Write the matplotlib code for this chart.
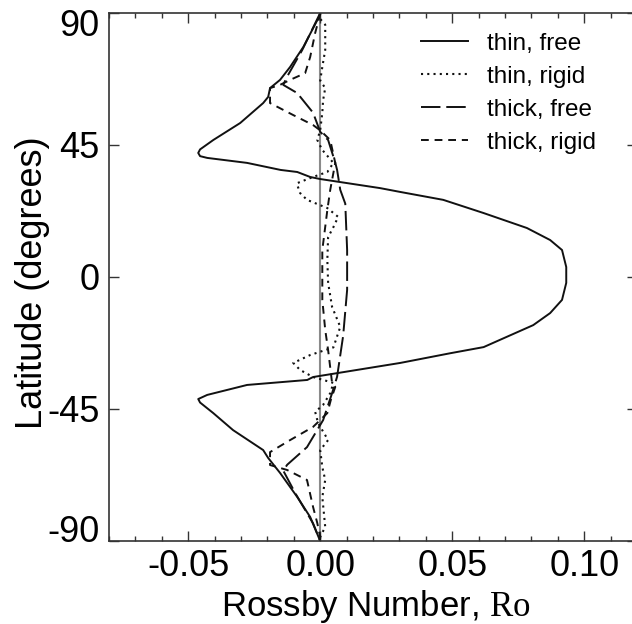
import numpy as np
import matplotlib
matplotlib.use('Agg')
import matplotlib.pyplot as plt
import matplotlib.transforms as mtransforms
from matplotlib.ticker import MultipleLocator

# latitude (deg) and Rossby number
lat_thin_free = [90, 88.6, 78.4, 71.6, 67.2, 64.4, 61.4, 59.3, 52.5, 46.7, 43.5, 42.3, 41.2, 40.6,
                 38.9, 36.5, 35.8, 34.1, 33.4, 30.3, 29.0, 26.3, 21.8, 16.7, 12.6, 9.2, 3.4,
                 -2.0, -7.8, -12.3, -16.4, -23.9, -26.0, -29.3, -34.1, -35.1, -36.8, -40.2,
                 -41.6, -42.8, -46.4, -52.2, -59.0, -61.7, -66.8, -75.0, -81.8, -90]
ro_thin_free = [0.0, -0.0005, -0.0064, -0.0114, -0.0152, -0.0190, -0.0197, -0.0216, -0.0303,
                -0.0405, -0.0455, -0.0462, -0.0455, -0.0428, -0.0277, -0.0150, -0.0087,
                -0.0038, 0.0, 0.0227, 0.0303, 0.0466, 0.0619, 0.0783, 0.0871, 0.0916, 0.0932,
                0.0932, 0.0916, 0.0871, 0.0807, 0.0619, 0.0492, 0.0303, -0.0027, -0.0049,
                -0.0277, -0.0428, -0.0462, -0.0455, -0.0405, -0.0330, -0.0216, -0.0197,
                -0.0152, -0.0087, -0.0038, 0.0]

lat_thin_rigid = [90, 88.0, 86.0, 77.4, 71.6, 67.0, 64.4, 60.3, 56.0, 50.0, 46.7, 43.3, 38.9,
                  35.8, 34.1, 32.0, 31.4, 28.6, 26.3, 23.5, 20.5, 17.0, 13.6, 5.8, -2.0, -10.2,
                  -17.0, -24.0, -26.6, -29.3, -31.7, -34.1, -36.1, -39.6, -43.6, -46.0, -49.8,
                  -55.6, -59.0, -64.8, -69.2, -75.0, -85.2, -88.6, -90]
ro_thin_rigid = [0.0, 0.0, 0.0019, 0.0019, 0.0008, 0.0, 0.0019, 0.0011, 0.0008, 0.0, -0.0011,
                 0.0008, 0.0050, 0.0027, -0.0027, -0.0087, -0.0087, -0.0076, -0.0050, 0.0027,
                 0.0068, 0.0050, 0.0030, 0.0027, 0.0030, 0.0045, 0.0076, 0.0050, -0.0038,
                 -0.0102, -0.0076, -0.0027, 0.0050, 0.0038, 0.0011, -0.0019, -0.0008, 0.0030,
                 0.0, 0.0008, 0.0019, 0.0008, 0.0019, 0.0, 0.0]

lat_thick_free = [90, 77.4, 68.2, 65.5, 62.7, 56.0, 49.5, 46.7, 39.0, 36.5, 29.7, 25.0, 9.2,
                  -4.4, -20.0, -34.0, -39.6, -48.8, -58.0, -64.0, -66.0, -73.6, -84.0, -90]
ro_thick_free = [0.0, -0.0068, -0.0126, -0.0140, -0.0087, -0.0027, 0.0, 0.0030, 0.0057, 0.0064,
                 0.0076, 0.0095, 0.0102, 0.0102, 0.0087, 0.0064, 0.0045, 0.0011, -0.0050,
                 -0.0125, -0.0140, -0.0095, -0.0027, 0.0]

lat_thick_rigid = [90, 88.0, 83.2, 75.0, 69.5, 67.2, 65.5, 64.4, 59.3, 55.2, 51.8, 50.0, 46.7,
                   38.9, 29.7, 22.8, 9.2, -7.8, -18.0, -24.9, -36.1, -37.5, -42.0, -46.4, -51.1,
                   -55.6, -59.7, -64.1, -65.8, -69.2, -78.4, -83.9, -88.6, -90]
ro_thick_rigid = [0.0, -0.0005, -0.0019, -0.0038, -0.0057, -0.0114, -0.0152, -0.0190, -0.0190,
                  -0.0102, -0.0027, 0.0, 0.0038, 0.0057, 0.0038, 0.0027, 0.0008, 0.0008, 0.0019,
                  0.0030, 0.0045, 0.0057, 0.0040, 0.0027, -0.0027, -0.0114, -0.0190, -0.0190,
                  -0.0125, -0.0050, -0.0027, -0.0011, 0.0, 0.0]

plt.rcParams.update({"font.family": "Liberation Sans",
                     "mathtext.fontset": "custom",
                     "mathtext.rm": "Liberation Serif",
                     "axes.unicode_minus": False,
                     "font.size": 26})

fig = plt.figure(figsize=(6.32, 6.24), dpi=100)
ax = fig.add_axes([109/632, 83/624, 528/632, 528/624])

ax.axvline(0, c='#8a8a8a', lw=1.5, zorder=1)
ax.plot(ro_thin_free, lat_thin_free, c='#111111', lw=1.4, label='thin, free')
ax.plot(ro_thin_rigid, lat_thin_rigid, c='#111111', lw=1.5, ls=(0, (1, 2)), label='thin, rigid')
ax.plot(ro_thick_free, lat_thick_free, c='#111111', lw=1.4, ls=(0, (10, 3)), label='thick, free')
ax.plot(ro_thick_rigid, lat_thick_rigid, c='#111111', lw=1.4, ls=(0, (4, 3)), label='thick, rigid')

ax.set_xlim(-0.08, 0.12)
ax.set_ylim(-90, 90)
ax.set_yticks([-90, -45, 0, 45, 90])
ax.set_xticks([-0.05, 0.0, 0.05, 0.10])
ax.set_xticklabels(['-0.05', '0.00', '0.05', '0.10'])
ax.xaxis.set_minor_locator(MultipleLocator(0.01))
ax.tick_params(which='both', direction='in', top=True, right=True, color='#333333')
ax.tick_params(which='major', length=7.2, width=1.0)
ax.tick_params(which='minor', length=3.6, width=1.0)
ax.tick_params(axis='x', pad=6)
ax.tick_params(axis='y', pad=7)
for s in ax.spines.values():
    s.set_color('#333333')
    s.set_linewidth(1.2)

# end labels on the y axis sit inside the frame
labs = ax.get_yticklabels()
labs[-1].set_transform(labs[-1].get_transform() +
                       mtransforms.ScaledTranslation(0, -9/100, fig.dpi_scale_trans))
labs[0].set_transform(labs[0].get_transform() +
                      mtransforms.ScaledTranslation(0, 13/100, fig.dpi_scale_trans))

fig.text(376/632, 1 - 616/624, r'Rossby Number, $\mathrm{Ro}$', ha='center', va='baseline',
         fontsize=25)
fig.text(33/632, 1 - 283/624, 'Latitude (degrees)', rotation=90, ha='center', va='center')

ax.legend(loc='upper right', bbox_to_anchor=(0.96, 1.0), frameon=False, fontsize=17.5,
          handlelength=1.9, handletextpad=0.8, labelspacing=0.45, borderaxespad=0.42)

fig.savefig('out.png', dpi=100)
